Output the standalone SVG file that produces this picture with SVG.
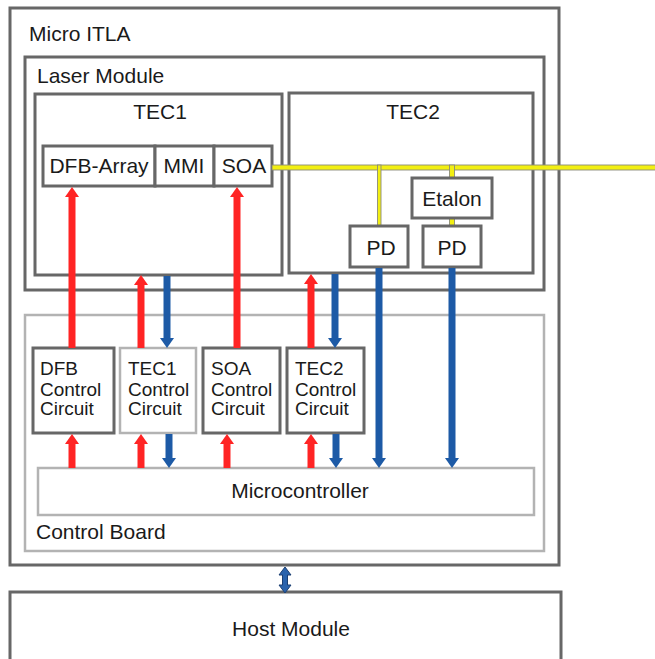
<svg xmlns="http://www.w3.org/2000/svg" width="655" height="659" viewBox="0 0 655 659">
<style>
text{font-family:"Liberation Sans",Arial,Helvetica,sans-serif;fill:#1a1a1a;font-size:21px}
.dk{fill:#fff;stroke:#676767;stroke-width:3}
.lt{fill:#fff;stroke:#b3b3b3;stroke-width:2.5}
.sm{font-size:19px}
.mid{text-anchor:middle}
.red{stroke:#ff2424;stroke-width:7;fill:none}
.blue{stroke:#1d5aa6;stroke-width:7;fill:none}
.fib{fill:#f2ef12;stroke:#8a8a7a;stroke-width:0.9}
</style>
<defs>
<marker id="hr" viewBox="0 0 10 14" refX="0" refY="7" markerWidth="10" markerHeight="14" markerUnits="userSpaceOnUse" orient="auto"><path d="M0,0 L10,7 L0,14 z" fill="#ff2424"/></marker>
<marker id="hb" viewBox="0 0 10 14" refX="0" refY="7" markerWidth="10" markerHeight="14" markerUnits="userSpaceOnUse" orient="auto"><path d="M0,0 L10,7 L0,14 z" fill="#1d5aa6"/></marker>
</defs>

<g id="micro-itla"><rect class="dk" x="10" y="8" width="549" height="557"/><text x="29" y="41">Micro ITLA</text></g>
<g id="laser-module"><rect class="dk" x="25" y="57" width="519" height="233"/><text x="37" y="83">Laser Module</text></g>
<g id="tec1"><rect class="dk" x="35" y="94" width="247" height="181"/><text class="mid" x="160" y="119">TEC1</text></g>
<g id="tec2"><rect class="dk" x="289" y="93" width="244" height="180"/><text class="mid" x="413" y="119">TEC2</text></g>
<g id="dfb-array"><rect class="dk" x="43" y="146" width="112" height="40" stroke-width="2.5"/><text class="mid" x="99" y="173">DFB-Array</text></g>
<g id="mmi"><rect class="dk" x="155" y="146" width="59" height="40" stroke-width="2.5"/><text class="mid" x="184" y="173">MMI</text></g>
<g id="soa"><rect class="dk" x="214" y="146" width="58" height="40" stroke-width="2.5"/><text class="mid" x="244" y="173">SOA</text></g>

<g id="fiber">
<rect class="fib" x="272" y="165" width="384" height="5"/>
<rect class="fib" x="377.5" y="165" width="3.5" height="61"/>
<rect class="fib" x="449.5" y="165" width="5" height="13"/>
<rect class="fib" x="449.5" y="218" width="5" height="8"/>
</g>

<g id="etalon"><rect class="dk" x="412" y="178" width="80" height="40"/><text class="mid" x="452" y="206">Etalon</text></g>
<g id="pd1"><rect class="dk" x="350" y="226" width="58" height="41"/><text class="mid" x="381" y="255">PD</text></g>
<g id="pd2"><rect class="dk" x="423" y="226" width="58" height="41"/><text class="mid" x="452" y="255">PD</text></g>

<g id="control-board"><rect class="lt" x="25" y="315" width="519" height="236"/><text x="36" y="539">Control Board</text></g>
<g id="dfb-cc"><rect class="dk" x="33" y="348" width="81" height="85"/><text class="sm" x="40" y="375">DFB</text><text class="sm" x="40" y="396">Control</text><text class="sm" x="40" y="415">Circuit</text></g>
<g id="tec1-cc"><rect class="lt" x="120" y="348" width="76" height="85"/><text class="sm" x="128" y="375">TEC1</text><text class="sm" x="128" y="396">Control</text><text class="sm" x="128" y="415">Circuit</text></g>
<g id="soa-cc"><rect class="dk" x="203" y="348" width="77" height="85"/><text class="sm" x="211" y="375">SOA</text><text class="sm" x="211" y="396">Control</text><text class="sm" x="211" y="415">Circuit</text></g>
<g id="tec2-cc"><rect class="dk" x="287" y="348" width="77" height="85"/><text class="sm" x="295" y="375">TEC2</text><text class="sm" x="295" y="396">Control</text><text class="sm" x="295" y="415">Circuit</text></g>
<g id="microcontroller"><rect class="lt" x="38" y="468" width="496" height="47" stroke-width="2"/><text class="mid" x="300" y="498">Microcontroller</text></g>

<g id="host-module"><rect class="dk" x="10" y="592" width="551" height="80"/><text class="mid" x="291" y="636">Host Module</text></g>

<g id="connectors">
<line class="red" x1="72" y1="348" x2="72" y2="197" marker-end="url(#hr)"/>
<line class="red" x1="141" y1="348" x2="141" y2="285" marker-end="url(#hr)"/>
<line class="blue" x1="167" y1="276" x2="167" y2="338" marker-end="url(#hb)"/>
<line class="red" x1="237" y1="348" x2="237" y2="197" marker-end="url(#hr)"/>
<line class="red" x1="311" y1="348" x2="311" y2="284" marker-end="url(#hr)"/>
<line class="blue" x1="335" y1="274" x2="335" y2="338" marker-end="url(#hb)"/>
<line class="blue" x1="379" y1="268" x2="379" y2="458" marker-end="url(#hb)"/>
<line class="blue" x1="452" y1="268" x2="452" y2="458" marker-end="url(#hb)"/>
<line class="red" x1="72" y1="468" x2="72" y2="444" marker-end="url(#hr)"/>
<line class="red" x1="141" y1="468" x2="141" y2="444" marker-end="url(#hr)"/>
<line class="red" x1="227" y1="468" x2="227" y2="444" marker-end="url(#hr)"/>
<line class="red" x1="311" y1="468" x2="311" y2="444" marker-end="url(#hr)"/>
<line class="blue" x1="169" y1="434" x2="169" y2="458" marker-end="url(#hb)"/>
<line class="blue" x1="336" y1="434" x2="336" y2="458" marker-end="url(#hb)"/>
<path d="M285,567 L291,575 L287.5,575 L287.5,585 L291,585 L285,593 L279,585 L282.5,585 L282.5,575 L279,575 z" fill="#2a63ad" stroke="#1b3f73" stroke-width="1"/>
</g>
</svg>
